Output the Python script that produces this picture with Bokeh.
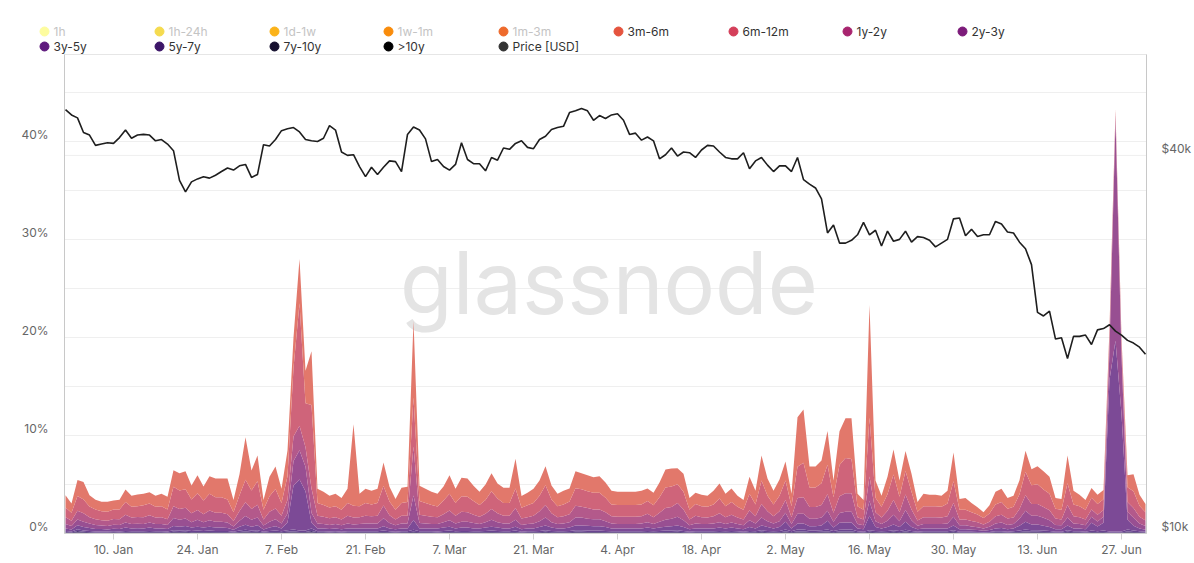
import datetime as dt
import math
from bokeh.plotting import figure
from bokeh.layouts import column
from bokeh.models import (ColumnDataSource, Range1d, LogScale, LogAxis, FixedTicker,
                          CustomJSTickFormatter, Label, Span)
from bokeh.core.properties import value
from bokeh.embed import file_html
from bokeh.resources import INLINE

# ---------------- data (daily, 2 Jan 2022 .. 1 Jul 2022), % of supply spent ----------------
first_day = dt.datetime(2022, 1, 2)
n_days = 181

b_3m6m = [1.24,0.94,1.64,1.79,1.14,0.99,0.99,1.04,0.94,0.99,
          1.29,1.14,1.19,1.19,1.14,1.14,1.29,1.29,1.69,1.74,
          1.84,1.44,1.84,1.44,1.79,1.89,1.89,2.14,1.24,2.14,
          4.34,2.04,2.64,0.99,1.99,2.29,1.44,2.64,3.1,4.5,
          3.3,5.5,1.44,1.34,1.19,1.29,1.19,1.44,8.34,1.29,
          1.44,1.39,1.44,2.39,1.49,1.09,1.54,1.54,7.8,1.54,
          1.44,1.34,1.29,1.44,1.89,1.44,1.89,1.84,1.54,1.34,
          1.59,1.84,1.54,1.54,1.54,3.04,1.19,1.29,1.44,1.54,
          1.94,1.44,1.29,1.39,1.34,1.74,1.64,1.64,1.59,1.69,
          1.54,1.39,1.34,1.34,1.34,1.34,1.39,1.29,1.29,1.49,
          1.84,1.84,1.64,1.84,1.19,1.14,1.19,1.14,1.39,1.54,
          1.29,1.39,1.14,0.99,1.74,1.39,2.54,1.74,1.39,1.64,
          1.94,1.29,5.04,5.44,2.14,2.14,2.34,3.44,1.69,3.44,
          4.04,4.14,1.29,0.99,11.5,1.74,1.14,1.79,2.54,1.64,
          2.04,1.84,0.99,1.29,1.19,1.19,1.14,1.29,2.94,1.09,
          1.19,0.94,0.74,0.59,0.84,1.29,1.34,1.09,1.14,1.44,
          2.14,1.64,1.84,1.84,1.74,1.09,1.09,2.84,1.39,1.19,
          0.99,0.99,0.94,0.94,0.5,0.2,0.4,1.24,1.74,1.14,
          0.84]
b_6m12m = [1.0,0.8,1.5,1.4,1.1,1.0,0.9,0.9,0.95,1.0,
           1.3,1.1,1.1,1.2,1.2,1.1,1.1,1.0,2.0,1.9,
           1.9,1.4,1.7,1.4,1.7,1.6,1.6,1.5,0.9,1.6,
           2.3,1.9,2.4,1.0,1.6,2.0,1.3,2.4,7.0,12.5,
           4.5,8.5,1.3,1.2,1.1,1.1,1.0,1.3,1.2,1.1,
           1.3,1.2,1.3,2.0,1.4,1.0,1.3,1.4,5.0,1.4,
           1.3,1.2,1.1,1.4,1.7,1.3,1.6,1.6,1.4,1.2,
           1.4,1.8,1.5,1.3,1.3,2.0,1.1,1.2,1.3,1.6,
           2.0,1.4,1.1,1.2,1.3,1.8,1.8,1.7,1.7,1.7,
           1.5,1.2,1.2,1.2,1.2,1.2,1.2,1.3,1.2,1.6,
           2.1,2.1,1.9,1.8,1.0,1.2,1.1,1.1,1.2,1.5,
           1.1,1.3,1.1,1.0,1.7,1.2,2.4,1.6,1.2,1.6,
           2.0,1.1,3.2,3.5,2.0,2.0,2.2,3.0,1.6,3.2,
           3.6,3.5,1.1,1.0,6.0,1.5,1.1,1.7,2.6,1.6,
           2.4,1.8,0.9,1.1,1.1,1.1,1.1,1.3,2.2,1.0,
           1.0,0.9,0.8,0.65,0.85,1.2,1.3,1.0,1.1,1.5,
           2.4,1.9,2.0,1.8,1.7,1.0,1.0,2.2,1.2,1.1,
           1.0,1.2,1.1,1.1,0.8,0.4,0.6,1.5,1.7,1.1,
           0.85]
b_1y2y = [0.7,0.55,0.9,0.85,0.65,0.6,0.55,0.55,0.6,0.6,
          0.8,0.65,0.7,0.7,0.75,0.65,0.7,0.6,1.2,1.1,
          1.1,0.9,1.0,0.8,1.0,0.9,0.9,0.85,0.55,1.0,
          1.4,1.1,1.3,0.6,1.0,1.1,0.8,1.4,2.5,2.5,
          2.0,2.5,0.8,0.75,0.7,0.7,0.6,0.8,0.7,0.7,
          0.8,0.75,0.8,1.3,0.8,0.6,0.8,0.8,5.0,0.85,
          0.8,0.75,0.7,0.8,1.0,0.8,1.0,0.95,0.85,0.75,
          0.85,1.1,0.9,0.8,0.8,1.2,0.65,0.7,0.8,1.0,
          1.3,0.9,0.7,0.75,0.8,1.2,1.1,1.1,1.0,1.0,
          0.9,0.75,0.75,0.75,0.75,0.75,0.75,0.85,0.7,0.9,
          1.2,1.2,1.4,1.1,0.6,0.8,0.7,0.65,0.75,0.9,
          0.7,0.8,0.65,0.6,1.0,0.75,1.4,1.0,0.75,1.0,
          1.3,0.7,1.6,1.7,1.2,1.2,1.3,1.7,0.9,1.7,
          1.9,1.9,0.7,0.6,2.5,0.9,0.65,1.0,1.5,0.9,
          1.6,1.1,0.55,0.7,0.7,0.7,0.65,0.75,1.4,0.6,
          0.6,0.55,0.5,0.4,0.5,0.75,0.8,0.65,0.65,1.0,
          1.6,1.2,1.2,1.1,1.0,0.65,0.6,1.3,0.75,0.7,
          0.6,0.75,0.7,0.7,1.0,0.5,0.8,1.0,1.0,0.7,
          0.55]
b_2y3y = [0.45,0.35,0.6,0.55,0.45,0.4,0.35,0.35,0.4,0.4,
          0.5,0.45,0.45,0.45,0.5,0.45,0.45,0.4,0.8,0.7,
          0.75,0.55,0.7,0.55,0.65,0.6,0.6,0.55,0.35,0.6,
          0.9,0.7,0.8,0.4,0.6,0.7,0.5,0.9,2.5,3.0,
          2.5,1.0,0.5,0.45,0.4,0.45,0.4,0.5,0.4,0.45,
          0.5,0.5,0.5,0.8,0.55,0.4,0.5,0.5,2.5,0.55,
          0.5,0.45,0.45,0.55,0.65,0.5,0.6,0.6,0.55,0.45,
          0.55,0.7,0.55,0.5,0.5,0.7,0.45,0.45,0.5,0.6,
          0.8,0.55,0.45,0.5,0.55,0.8,0.8,0.7,0.7,0.7,
          0.6,0.5,0.45,0.45,0.45,0.45,0.5,0.55,0.45,0.6,
          0.7,0.75,0.9,0.7,0.4,0.5,0.45,0.45,0.5,0.55,
          0.45,0.5,0.45,0.4,0.7,0.5,0.8,0.6,0.5,0.6,
          0.9,0.45,1.0,1.0,0.75,0.75,0.8,1.0,0.6,1.0,
          1.1,1.1,0.45,0.4,1.5,0.6,0.45,0.65,1.0,0.6,
          1.2,0.7,0.35,0.45,0.45,0.45,0.45,0.5,0.9,0.4,
          0.4,0.35,0.3,0.25,0.35,0.5,0.55,0.45,0.45,0.7,
          1.1,0.9,0.9,0.8,0.7,0.45,0.4,0.8,0.5,0.45,
          0.4,0.6,0.5,0.6,3.0,22.5,6.0,0.8,0.8,0.5,
          0.4]
b_3y5y = [0.25,0.2,0.4,0.35,0.3,0.25,0.25,0.2,0.25,0.25,
          0.35,0.3,0.3,0.3,0.35,0.3,0.3,0.25,0.45,0.4,
          0.45,0.35,0.4,0.35,0.4,0.35,0.35,0.3,0.2,0.4,
          0.5,0.4,0.5,0.25,0.35,0.45,0.3,0.8,4.5,5.2,
          4.0,0.6,0.3,0.3,0.25,0.3,0.25,0.3,0.3,0.3,
          0.3,0.3,0.3,0.45,0.3,0.25,0.3,0.3,1.0,0.3,
          0.3,0.3,0.3,0.35,0.4,0.3,0.35,0.35,0.3,0.3,
          0.35,0.4,0.35,0.3,0.3,0.4,0.25,0.3,0.3,0.4,
          0.5,0.35,0.3,0.3,0.35,0.5,0.5,0.5,0.45,0.45,
          0.4,0.3,0.3,0.3,0.3,0.3,0.3,0.35,0.3,0.35,
          0.4,0.45,0.5,0.4,0.25,0.3,0.3,0.3,0.3,0.35,
          0.3,0.35,0.3,0.25,0.4,0.3,0.5,0.4,0.3,0.4,
          0.8,0.3,0.6,0.6,0.45,0.45,0.5,0.9,0.35,0.7,
          0.7,0.7,0.3,0.25,1.5,0.4,0.3,0.4,0.6,0.4,
          0.8,0.4,0.25,0.3,0.3,0.3,0.3,0.3,0.5,0.25,
          0.25,0.2,0.2,0.15,0.2,0.3,0.35,0.25,0.3,0.5,
          0.8,0.6,0.6,0.5,0.4,0.25,0.25,0.5,0.3,0.3,
          0.25,0.8,0.5,0.8,15.5,19.5,12.0,1.0,0.5,0.3,
          0.2]
b_5y7y = [0.12,0.1,0.18,0.14,0.12,0.1,0.1,0.1,0.12,0.1,
          0.12,0.1,0.12,0.1,0.12,0.1,0.1,0.1,0.15,0.14,
          0.15,0.12,0.14,0.12,0.14,0.12,0.12,0.12,0.08,0.14,
          0.18,0.14,0.15,0.08,0.12,0.14,0.1,0.15,0.2,0.15,
          0.15,0.25,0.1,0.1,0.1,0.1,0.08,0.1,0.1,0.1,
          0.1,0.1,0.1,0.14,0.1,0.08,0.1,0.1,0.2,0.1,
          0.1,0.1,0.1,0.12,0.14,0.1,0.12,0.12,0.1,0.1,
          0.12,0.14,0.12,0.1,0.1,0.14,0.08,0.1,0.1,0.12,
          0.15,0.12,0.1,0.1,0.12,0.15,0.15,0.14,0.14,0.14,
          0.12,0.1,0.1,0.1,0.1,0.1,0.1,0.12,0.1,0.12,
          0.14,0.14,0.15,0.12,0.08,0.1,0.1,0.1,0.1,0.12,
          0.1,0.12,0.1,0.08,0.12,0.1,0.15,0.12,0.1,0.12,
          0.2,0.1,0.2,0.2,0.14,0.14,0.15,0.2,0.12,0.18,
          0.2,0.2,0.1,0.08,0.15,0.12,0.1,0.12,0.15,0.12,
          0.18,0.12,0.08,0.1,0.1,0.1,0.1,0.1,0.15,0.08,
          0.08,0.08,0.06,0.05,0.06,0.1,0.1,0.08,0.1,0.14,
          0.2,0.15,0.15,0.14,0.12,0.08,0.08,0.15,0.1,0.1,
          0.08,0.14,0.1,0.14,0.1,0.1,0.1,0.2,0.14,0.1,
          0.08]
b_7y10y = [0.08,0.06,0.15,0.1,0.08,0.06,0.06,0.06,0.07,0.06,
           0.08,0.07,0.07,0.07,0.08,0.07,0.07,0.06,0.1,0.09,
           0.1,0.08,0.09,0.08,0.09,0.08,0.08,0.08,0.05,0.09,
           0.12,0.09,0.1,0.05,0.08,0.09,0.07,0.1,0.1,0.08,
           0.08,0.15,0.07,0.07,0.06,0.07,0.06,0.07,0.07,0.07,
           0.07,0.07,0.07,0.09,0.07,0.06,0.07,0.07,0.1,0.07,
           0.07,0.07,0.06,0.08,0.09,0.07,0.08,0.08,0.07,0.07,
           0.08,0.09,0.08,0.07,0.07,0.09,0.06,0.07,0.07,0.08,
           0.1,0.08,0.07,0.07,0.08,0.1,0.1,0.09,0.09,0.09,
           0.08,0.07,0.07,0.07,0.07,0.07,0.07,0.08,0.07,0.08,
           0.09,0.09,0.1,0.08,0.06,0.07,0.07,0.07,0.07,0.08,
           0.07,0.08,0.07,0.06,0.08,0.07,0.1,0.08,0.07,0.08,
           0.12,0.07,0.12,0.12,0.09,0.09,0.1,0.12,0.08,0.12,
           0.12,0.12,0.07,0.06,0.1,0.08,0.07,0.08,0.1,0.08,
           0.12,0.08,0.06,0.07,0.07,0.07,0.07,0.07,0.1,0.06,
           0.06,0.05,0.05,0.04,0.05,0.07,0.07,0.06,0.07,0.09,
           0.12,0.1,0.1,0.09,0.08,0.06,0.06,0.1,0.07,0.07,
           0.06,0.09,0.07,0.09,0.06,0.06,0.06,0.12,0.09,0.07,
           0.05]
b_10y = [0.06,0.05,0.1,0.07,0.06,0.05,0.05,0.05,0.05,0.05,
         0.06,0.05,0.05,0.05,0.06,0.05,0.05,0.05,0.07,0.07,
         0.07,0.06,0.07,0.06,0.07,0.06,0.06,0.06,0.04,0.07,
         0.09,0.07,0.08,0.04,0.06,0.07,0.05,0.08,0.1,0.07,
         0.07,0.1,0.05,0.05,0.05,0.05,0.04,0.05,0.05,0.05,
         0.05,0.05,0.05,0.07,0.05,0.04,0.05,0.05,0.08,0.05,
         0.05,0.05,0.05,0.06,0.07,0.05,0.06,0.06,0.05,0.05,
         0.06,0.07,0.06,0.05,0.05,0.07,0.04,0.05,0.05,0.06,
         0.07,0.06,0.05,0.05,0.06,0.07,0.07,0.07,0.07,0.07,
         0.06,0.05,0.05,0.05,0.05,0.05,0.05,0.06,0.05,0.06,
         0.07,0.07,0.07,0.06,0.04,0.05,0.05,0.05,0.05,0.06,
         0.05,0.06,0.05,0.04,0.06,0.05,0.07,0.06,0.05,0.06,
         0.09,0.05,0.09,0.09,0.07,0.07,0.07,0.09,0.06,0.09,
         0.09,0.09,0.05,0.04,0.07,0.06,0.05,0.06,0.07,0.06,
         0.09,0.06,0.04,0.05,0.05,0.05,0.05,0.05,0.07,0.04,
         0.04,0.04,0.04,0.03,0.04,0.05,0.05,0.04,0.05,0.07,
         0.09,0.07,0.07,0.07,0.06,0.04,0.04,0.07,0.05,0.05,
         0.04,0.07,0.05,0.07,0.04,0.04,0.04,0.09,0.07,0.05,
         0.04]

# BTC price, thousands of USD
price_k = [47.3,46.4,45.9,43.5,43.1,41.5,41.7,41.9,41.8,42.7,
           43.9,42.6,43.1,43.2,43.1,42.2,42.4,41.7,40.7,36.5,
           35.0,36.3,36.7,37.0,36.8,37.2,37.7,38.2,37.9,38.5,
           38.7,36.9,37.3,41.6,41.4,42.4,43.8,44.1,44.3,43.6,
           42.4,42.2,42.1,42.6,44.6,43.9,40.5,40.0,40.1,38.4,
           37.0,38.3,37.3,38.3,39.2,39.1,37.7,43.2,
           44.4,43.9,42.5,39.1,39.4,38.4,37.9,38.7,41.9,39.4,
           38.8,38.8,37.8,39.7,39.3,41.1,40.9,41.8,42.2,41.2,
           41.0,42.4,42.9,44.0,44.3,44.5,46.8,47.1,47.5,47.1,45.5,
           46.3,45.8,46.4,46.6,45.5,43.2,43.4,42.3,42.8,42.2,
           39.5,40.1,41.1,39.9,40.5,40.4,39.7,40.8,41.5,41.4,
           40.5,39.7,39.5,39.5,40.4,38.1,39.2,39.7,38.6,37.7,
           38.5,38.5,37.7,39.7,36.6,36.0,35.5,34.1,30.1,31.0,
           29.0,29.0,29.3,29.9,31.3,29.9,30.4,28.7,30.3,29.2,
           29.4,30.3,29.1,29.7,29.6,29.3,28.6,29.0,29.4,31.7,31.8,
           29.8,30.5,29.7,29.9,29.9,31.4,31.1,30.2,30.1,29.1,
           28.4,26.8,22.5,22.2,22.6,20.4,20.5,19.0,20.6,20.6,
           20.7,20.0,21.1,21.2,21.5,21.0,20.7,20.3,20.1,19.8,
           19.3]

tick_dates = [dt.datetime(2022, 1, 10), dt.datetime(2022, 1, 24), dt.datetime(2022, 2, 7),
              dt.datetime(2022, 2, 21), dt.datetime(2022, 3, 7), dt.datetime(2022, 3, 21),
              dt.datetime(2022, 4, 4), dt.datetime(2022, 4, 18), dt.datetime(2022, 5, 2),
              dt.datetime(2022, 5, 16), dt.datetime(2022, 5, 30), dt.datetime(2022, 6, 13),
              dt.datetime(2022, 6, 27)]
tick_labels = ["10. Jan", "24. Jan", "7. Feb", "21. Feb", "7. Mar", "21. Mar", "4. Apr",
               "18. Apr", "2. May", "16. May", "30. May", "13. Jun", "27. Jun"]

pct_ticks = [0, 10, 20, 30, 40]
price_ticks = [10000, 40000]

legend_names = ["1h", "1h-24h", "1d-1w", "1w-1m", "1m-3m", "3m-6m", "6m-12m", "1y-2y",
                "2y-3y", "3y-5y", "5y-7y", "7y-10y", ">10y", "Price [USD]"]
legend_colors = ["#fdfc9f", "#f5db4f", "#fbb31a", "#f98c0b", "#ee6a2c", "#e5543e", "#d43f5a",
                 "#a8246f", "#7c1b7a", "#5f1a7e", "#3c1568", "#16102f", "#000000", "#333333"]
legend_shown = [False, False, False, False, False, True, True, True, True,
                True, True, True, True, True]

# stacked bottom -> top
stack_keys = ["b_10y", "b_7y10y", "b_5y7y", "b_3y5y", "b_2y3y", "b_1y2y", "b_6m12m", "b_3m6m"]
stack_fill = ["#3b3157", "#4d3a76", "#6a4590", "#7c4a96", "#984f92", "#b3598b", "#cf647a", "#e2786b"]

# ---------------- build ----------------
dates = [first_day + dt.timedelta(days=i) for i in range(n_days)]
for arr in (b_3m6m, b_6m12m, b_1y2y, b_2y3y, b_3y5y, b_5y7y, b_7y10y, b_10y, price_k):
    assert len(arr) == n_days, len(arr)

src = ColumnDataSource(dict(
    date=dates, b_3m6m=b_3m6m, b_6m12m=b_6m12m, b_1y2y=b_1y2y, b_2y3y=b_2y3y,
    b_3y5y=b_3y5y, b_5y7y=b_5y7y, b_7y10y=b_7y10y, b_10y=b_10y,
    price=[v * 1000 for v in price_k]))

epoch = dt.datetime(1970, 1, 1)
def ms(d):
    return (d - epoch).total_seconds() * 1000.0

FONT = "Inter"
W = 1194
LEG_H = 54           # legend strip on top
H = 563 - LEG_H      # main chart
ML, MR, MT, MB = 64, 47, 0, 30
FW = W - ML - MR
FH = H - MT - MB
PX_PER_PCT = 9.8     # vertical scale of the percentage axis
Y_TOP = FH / PX_PER_PCT
PX_PER_DEC = 628.0   # vertical scale of the price axis (pixels per decade)
P_LO = 10000
P_HI = P_LO * 10 ** (FH / PX_PER_DEC)

x_start = ms(first_day) - 4 * 3600e3
x_end = ms(dt.datetime(2022, 7, 1)) + 4 * 3600e3

# ---------------- legend strip ----------------
leg = figure(width=W, height=LEG_H, x_range=Range1d(0, W), y_range=Range1d(LEG_H, 0),
             output_backend="svg", toolbar_location=None,
             x_axis_location=None, y_axis_location=None,
             min_border_left=0, min_border_right=0, min_border_top=0, min_border_bottom=0)
leg.grid.visible = False
leg.outline_line_color = None
leg.background_fill_color = "white"
leg.border_fill_color = "white"

col_x = [44, 159, 274, 388, 503, 618, 733, 847, 962]
row_y = [31, 46]
lx, ly, tx, tcol = [], [], [], []
for i, name in enumerate(legend_names):
    r = 0 if i < 9 else 1
    c = i if i < 9 else i - 9
    lx.append(col_x[c])
    ly.append(row_y[r])
    tx.append(col_x[c] + 9)
    tcol.append("#333333" if legend_shown[i] else "#c4c4c4")
leg_src = ColumnDataSource(dict(x=lx, y=ly, tx=tx, name=legend_names, color=legend_colors,
                                tcol=tcol))
leg.scatter(x="x", y="y", source=leg_src, marker="circle", size=9, fill_color="color",
            line_color="color")
leg.text(x="tx", y="y", text="name", source=leg_src, text_color="tcol",
         text_font=value(FONT), text_font_size="12px", text_baseline="middle",
         text_align="left")

# ---------------- main chart ----------------
p = figure(width=W, height=H, x_axis_type="datetime",
           x_range=Range1d(x_start, x_end), y_range=Range1d(0, Y_TOP),
           output_backend="svg", toolbar_location=None,
           min_border_left=ML, min_border_right=MR, min_border_top=MT, min_border_bottom=MB)
p.outline_line_color = "#e6e6e6"
p.background_fill_color = "white"
p.border_fill_color = "white"

# keep the legend strip's frame independent of the chart's frame
for fig in (leg, p):
    try:
        fig.frame_align = False
    except Exception:
        pass

p.extra_y_ranges = {"price": Range1d(P_LO, P_HI)}
p.extra_y_scales = {"price": LogScale()}

def fx(px):      # page x -> data x
    return x_start + (px - ML) * (x_end - x_start) / FW
def fy(py):      # page y -> data y (percent)
    return (LEG_H + MT + FH - py) / PX_PER_PCT

# watermark
wm = Label(x=fx(609), y=fy(282), text="glassnode", text_font=FONT, text_font_size="86px",
           text_color="#e4e4e4", text_align="center", text_baseline="middle",
           level="underlay")
p.add_layout(wm)

# grids
p.xgrid.visible = False
p.ygrid.ticker = FixedTicker(ticks=[5, 10, 15, 20, 25, 30, 35, 40, 45])
p.ygrid.grid_line_color = "#efefef"
p.add_layout(Span(location=math.log10(40000 / P_LO) * PX_PER_DEC / PX_PER_PCT,
                  dimension="width", line_color="#efefef", line_width=1, level="underlay"))

# stacked areas
p.varea_stack(stackers=stack_keys, x="date", color=stack_fill, source=src)

# price line
p.line(x="date", y="price", source=src, y_range_name="price", line_color="#1e1e1e",
       line_width=1.6)

# left axis (labels sit slightly above their grid line, as in the original)
ya = p.yaxis[0]
ya.ticker = FixedTicker(ticks=[v + 0.7 for v in pct_ticks])
ya.formatter = CustomJSTickFormatter(code="return Math.round(tick - 0.7) + '%';")
ya.major_tick_line_color = None
ya.minor_tick_line_color = None
ya.major_tick_out = 0
ya.major_tick_in = 0
ya.major_label_standoff = 16
ya.axis_line_color = "#c8c8c8"
ya.major_label_text_font = FONT
ya.major_label_text_font_size = "12px"
ya.major_label_text_color = "#666666"

# right log axis for price
ra = LogAxis(y_range_name="price")
ra.ticker = FixedTicker(ticks=[v * 1.026 for v in price_ticks])
ra.formatter = CustomJSTickFormatter(code="return '$' + Math.round(tick / 1026) + 'k';")
ra.major_tick_line_color = None
ra.minor_tick_line_color = None
ra.major_tick_out = 0
ra.major_tick_in = 0
ra.major_label_standoff = 15
ra.axis_line_color = "#c8c8c8"
ra.major_label_text_font = FONT
ra.major_label_text_font_size = "12px"
ra.major_label_text_color = "#666666"
p.add_layout(ra, "right")

# x axis
xa = p.xaxis[0]
tick_ms = [ms(d) for d in tick_dates]
xa.ticker = FixedTicker(ticks=tick_ms)
js_map = "{" + ",".join('"%d":"%s"' % (int(t), l) for t, l in zip(tick_ms, tick_labels)) + "}"
xa.formatter = CustomJSTickFormatter(code="const m = %s; return m[String(Math.round(tick))] || '';" % js_map)
xa.minor_tick_line_color = None
xa.major_tick_in = 0
xa.major_tick_out = 6
xa.major_tick_line_color = "#d0d0d0"
xa.axis_line_color = "#d0d0d0"
xa.major_label_standoff = 2
xa.major_label_text_font = FONT
xa.major_label_text_font_size = "12px"
xa.major_label_text_color = "#666666"

layout = column(leg, p, spacing=0)
open("out.html", "w").write(file_html(layout, INLINE))
